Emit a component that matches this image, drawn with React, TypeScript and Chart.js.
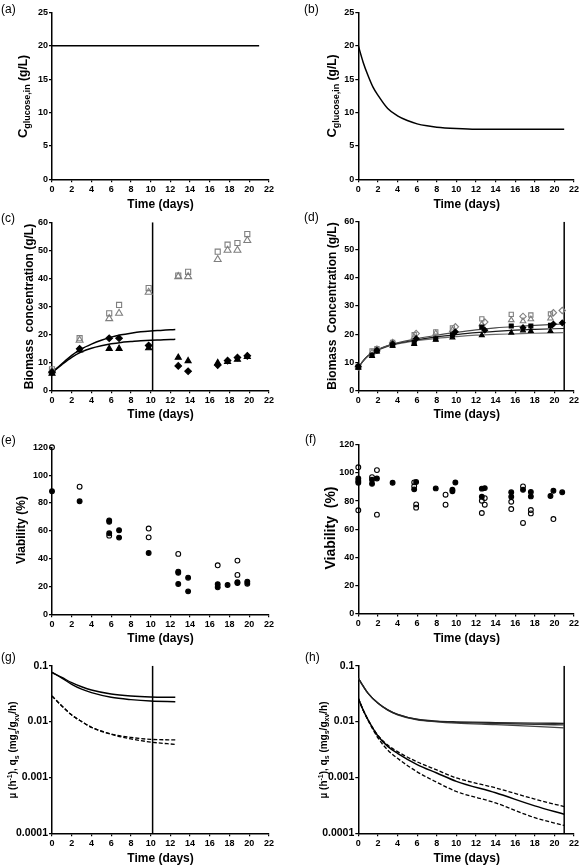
import React, { useEffect, useRef } from 'react';
import { Chart, registerables } from 'chart.js';

Chart.register(...registerables);

const FONT = '"Liberation Sans", Arial, Helvetica, sans-serif';

// ---------------- data ----------------
const xTickStep = 2;
const xMin = 0;
const xMax = 22;

// (a) constant glucose feed
const aT = [0, 21];
const aV = [20, 20];

// (b) decreasing glucose feed
const bT = [0, 0.5, 1, 1.5, 2, 3, 4, 5, 6, 7, 8, 10, 12, 21];
const bV = [20, 17.5, 15.5, 13.8, 12.6, 10.6, 9.5, 8.8, 8.3, 8.0, 7.8, 7.6, 7.5, 7.5];

// (c) biomass, constant feed
const cT = [0, 2.8, 5.8, 6.8, 9.8, 12.8, 13.8, 16.8, 17.8, 18.8, 19.8];
const cOpenSq = [7.5, 18.6, 27.5, 30.5, 36.5, 41, 42.3, 49.5, 52, 52.6, 55.8];
const cOpenTri = [6.9, 17.9, 25.6, 27.5, 35, 40.6, 40.6, 46.7, 50, 50, 53.5];
const cFillDia = [6.5, 14.8, 18.6, 18.6, 16, 8.7, 6.8, 9, 10.6, 11.7, 12.3];
const cFillTri = [6.0, 14.3, 14.9, 14.9, 15.1, 11.7, 10.5, 9.8, 10.2, 11, 12];
const cFitT = [0, 1, 2, 3, 4, 5, 6, 7, 8, 9, 10, 11, 12, 12.5];
const cFitHigh = [6.3, 9.5, 12.5, 14.8, 16.5, 17.9, 19, 19.8, 20.4, 20.9, 21.2, 21.4, 21.6, 21.7];
const cFitLow = [6.3, 9.2, 11.8, 13.7, 15, 15.9, 16.6, 17.1, 17.4, 17.7, 17.9, 18.0, 18.1, 18.2];
const cCut = 10.2;

// (d) biomass, decreasing feed
const dT1 = [0, 1.4, 1.9, 3.5, 5.7, 7.9, 9.6, 12.6, 15.6, 17.6, 19.6];
const dOpenSq = [8.5, 14, 14.8, 17, 19.8, 20.8, 22.2, 25.4, 27, 26.8, 27.2];
const dFillSq = [8.3, 12.5, 14, 16, 17, 18.3, 19.8, 22.5, 22.9, 22.9, 23.1];
const dT2 = [0, 1.4, 1.9, 3.5, 5.7, 7.9, 9.6, 12.6, 15.6, 16.8, 17.6, 19.6];
const dOpenTri = [8.3, 13.5, 14.5, 16.8, 19, 20.3, 21.5, 23.6, 25, 24.6, 25.3, 25.6];
const dFillTri = [8, 12.2, 13.8, 15.8, 16.5, 18, 18.8, 19.6, 20.5, 21.3, 21.1, 21.1];
const dT3 = [0, 1.9, 3.5, 5.9, 9.9, 12.9, 16.8, 19.9, 20.8];
const dOpenDia = [8.3, 14.6, 17, 20.2, 22.6, 24.3, 26.3, 27.6, 28.4];
const dFillDia = [8.6, 14.2, 16.5, 18.4, 20.8, 21.4, 22.3, 23.6, 24];
const dFitT = [0, 0.5, 1, 2, 3, 4, 6, 8, 10, 12, 14, 16, 18, 21];
const dFitHigh = [8, 10.5, 12.3, 14.5, 15.9, 16.9, 18.4, 19.6, 20.6, 21.5, 22.2, 22.7, 23.1, 23.6];
const dFitMid = [8, 10.5, 12.3, 14.4, 15.8, 16.7, 18.0, 19.0, 19.8, 20.5, 21.0, 21.4, 21.7, 22.0];
const dFitLow = [8, 10.5, 12.3, 14.3, 15.6, 16.5, 17.7, 18.5, 19.1, 19.6, 19.9, 20.1, 20.3, 20.5];
const dCut = 21;

// (e) viability, constant feed
const eOpenT = [0, 2.8, 5.8, 9.8, 9.8, 12.8, 16.8, 18.8, 18.8];
const eOpenV = [120, 91.7, 56.5, 61.6, 55.3, 43.4, 35.2, 38.6, 28.3];
const eFillT = [0, 2.8, 5.8, 5.8, 5.8, 6.8, 6.8, 9.8, 12.8, 12.8, 12.8, 13.8, 13.8, 16.8, 16.8, 17.8, 18.8, 18.8, 19.8, 19.8];
const eFillV = [88.4, 81.2, 67.5, 66.5, 58.2, 60.4, 55.1, 44.1, 30.7, 29.8, 21.8, 26.3, 16.5, 21.6, 19.4, 21.1, 22.5, 23, 23.5, 22];

// (f) viability, decreasing feed
const fFillT = [0, 0, 0, 1.4, 1.4, 1.9, 3.5, 5.7, 5.9, 7.9, 9.6, 9.6, 9.9, 12.6, 12.6, 12.9, 15.6, 15.6, 16.8, 17.6, 17.6, 19.6, 19.9, 20.8];
const fFillV = [96.1, 94.2, 93, 95.1, 92.3, 96, 93, 88.3, 93.5, 89, 88, 87, 93.2, 88.8, 83, 89.2, 86.2, 83, 88, 86.4, 83.3, 83.6, 87.3, 86.2];
const fOpenT = [0, 0, 1.4, 1.9, 1.9, 5.7, 5.7, 5.9, 5.9, 8.9, 8.9, 12.6, 12.6, 12.9, 12.9, 15.6, 15.6, 16.8, 16.8, 17.6, 17.6, 19.9];
const fOpenV = [104, 73.4, 97, 102, 70.3, 93.3, 90.6, 77.6, 75.3, 84.5, 77.4, 80.2, 71.5, 82.1, 77.4, 79.5, 74.3, 90.4, 64.4, 73.6, 71.2, 67.2];

// (g) specific rates, constant feed
const gT = [0, 1, 2, 3, 4, 6, 8, 10, 12.5];
const gMu1 = [0.076, 0.0618, 0.0497, 0.042, 0.0367, 0.0311, 0.0286, 0.0275, 0.0272];
const gMu2 = [0.076, 0.060, 0.0464, 0.038, 0.0329, 0.0272, 0.0247, 0.0233, 0.0227];
const gQs1 = [0.0287, 0.019, 0.0131, 0.0100, 0.0079, 0.0060, 0.0052, 0.0048, 0.0047];
const gQs2 = [0.0287, 0.019, 0.0131, 0.0100, 0.0079, 0.0059, 0.0049, 0.0043, 0.0039];
const gCut = 10.2;

// (h) specific rates, decreasing feed
const hT = [0, 0.5, 1, 2, 3, 4, 6, 8, 10, 14, 18, 21];
const hMu1 = [0.06, 0.043, 0.032, 0.0214, 0.0162, 0.0135, 0.011, 0.0102, 0.0099, 0.0096, 0.0094, 0.0093];
const hMu2 = [0.06, 0.043, 0.032, 0.0214, 0.0162, 0.0134, 0.0109, 0.0101, 0.0097, 0.0093, 0.0089, 0.0087];
const hMu3 = [0.06, 0.043, 0.032, 0.0213, 0.016, 0.0132, 0.0107, 0.0099, 0.0094, 0.0088, 0.0082, 0.0077];
const hQsTop = [0.026, 0.016, 0.0107, 0.0057, 0.0038, 0.0029, 0.0019, 0.00136, 0.00098, 0.00065, 0.00041, 0.0003];
const hQsMid = [0.026, 0.016, 0.0107, 0.0055, 0.0036, 0.0027, 0.0017, 0.0012, 0.00085, 0.00053, 0.00031, 0.00022];
const hQsLow = [0.026, 0.016, 0.0105, 0.0051, 0.0031, 0.0022, 0.00126, 0.00082, 0.00056, 0.00035, 0.00019, 0.000138];
const hCut = 21;

const logTickValues = [0.0001, 0.001, 0.01, 0.1];
const logTickLabels = ['0.0001', '0.001', '0.01', '0.1'];

// ---------------- helpers ----------------
const W_Y = 40;
const H_X = 16;

type Seg = { t: string; size: number; dy?: number; w?: string };
type TextItem = { x: number; y: number; rot?: boolean; align?: 'left' | 'center'; base: number; segs: Seg[] };
type Box = { x: number; y: number; w: number; h: number };
type Area = { l: number; t: number; r: number; b: number };

const pts = (xs: number[], ys: number[]) => xs.map((x, i) => ({ x, y: ys[i] }));

function markers(xs: number[], ys: number[], style: string, filled: boolean, color: string, r: number) {
  return {
    data: pts(xs, ys),
    showLine: false,
    pointStyle: style,
    pointRadius: r,
    pointBackgroundColor: filled ? color : 'rgba(0,0,0,0)',
    pointBorderColor: color,
    pointBorderWidth: 1.1,
    clip: false,
  };
}

function line(xs: number[], ys: number[], color: string, width: number, dash: number[] = []) {
  return {
    data: pts(xs, ys),
    showLine: true,
    borderColor: color,
    borderWidth: width,
    borderDash: dash,
    pointRadius: 0,
    cubicInterpolationMode: 'monotone',
    fill: false,
  };
}

function drawRich(ctx: CanvasRenderingContext2D, it: TextItem, ox: number, oy: number) {
  ctx.save();
  ctx.translate(it.x - ox, it.y - oy);
  if (it.rot) ctx.rotate(-Math.PI / 2);
  ctx.fillStyle = '#000';
  ctx.textBaseline = 'alphabetic';
  ctx.textAlign = 'left';
  let total = 0;
  const ws = it.segs.map((s) => {
    ctx.font = `${s.w || 'bold'} ${s.size}px ${FONT}`;
    const w = ctx.measureText(s.t).width;
    total += w;
    return w;
  });
  let cx = it.align === 'left' ? 0 : -total / 2;
  const baseY = it.base * 0.36;
  it.segs.forEach((s, i) => {
    ctx.font = `${s.w || 'bold'} ${s.size}px ${FONT}`;
    ctx.fillText(s.t, cx, baseY + (s.dy || 0));
    cx += ws[i];
  });
  ctx.restore();
}

const tickFont = { family: FONT, size: 9, weight: 'bold' as const };
const logTickFont = { family: FONT, size: 10.5, weight: 'bold' as const };

function xAxis() {
  return {
    type: 'linear',
    min: xMin,
    max: xMax,
    ticks: { stepSize: xTickStep, autoSkip: false, maxRotation: 0, font: tickFont, color: '#000', padding: 2 },
    grid: { display: true, drawOnChartArea: false, drawTicks: true, tickLength: 3, color: '#000', lineWidth: 1.2 },
    border: { display: true, color: '#000', width: 1.5 },
    afterFit: (s: any) => {
      s.height = H_X;
    },
  };
}

function yLinear(max: number, step: number) {
  return {
    type: 'linear',
    min: 0,
    max,
    ticks: { stepSize: step, autoSkip: false, font: tickFont, color: '#000', padding: 1 },
    grid: { display: true, drawOnChartArea: false, drawTicks: true, tickLength: 3, color: '#000', lineWidth: 1.2 },
    border: { display: true, color: '#000', width: 1.5 },
    afterFit: (s: any) => {
      s.width = W_Y;
    },
  };
}

function yLog() {
  return {
    type: 'logarithmic',
    min: logTickValues[0],
    max: logTickValues[logTickValues.length - 1],
    afterBuildTicks: (s: any) => {
      s.ticks = logTickValues.map((v) => ({ value: v, major: true }));
    },
    ticks: {
      autoSkip: false,
      font: logTickFont,
      color: '#000',
      padding: 1,
      callback: (v: number) => {
        const i = logTickValues.findIndex((t) => Math.abs(t - v) / t < 1e-6);
        return i >= 0 ? logTickLabels[i] : '';
      },
    },
    grid: { display: true, drawOnChartArea: false, drawTicks: true, tickLength: 3, color: '#000', lineWidth: 1.2 },
    border: { display: true, color: '#000', width: 1.5 },
    afterFit: (s: any) => {
      s.width = W_Y;
    },
  };
}

type Spec = { box: Box; area: Area; y: any; datasets: any[]; texts: TextItem[] };

const title = (x: number, y: number, text: string, size = 12): TextItem => ({ x, y, base: size, segs: [{ t: text, size }] });
const yTitle = (x: number, y: number, segs: Seg[], base = 12): TextItem => ({ x, y, rot: true, base, segs });
const panelLabel = (x: number, y: number, t: string): TextItem => ({ x, y, align: 'left', base: 12, segs: [{ t, size: 12, w: 'normal' }] });

const glucoseSegs: Seg[] = [
  { t: 'C', size: 13 },
  { t: 'glucose,in', size: 9, dy: 3 },
  { t: ' (g/L)', size: 12 },
];
const rateSegs: Seg[] = [
  { t: 'µ (h', size: 10 },
  { t: '-1', size: 7, dy: -4 },
  { t: '), q', size: 10 },
  { t: 's', size: 7, dy: 2.5 },
  { t: ' (mg', size: 10 },
  { t: 's', size: 7, dy: 2.5 },
  { t: '/g', size: 10 },
  { t: 'xv', size: 7, dy: 2.5 },
  { t: '/h)', size: 10 },
];

const L = { l: 52, r: 269 };
const R = { l: 358.3, r: 575 };
const cx = (a: { l: number; r: number }) => (a.l + a.r) / 2;

const GRAY = '#7f7f7f';

const specs: Spec[] = [
  {
    box: { x: 0, y: 0, w: 290, h: 212 },
    area: { l: L.l, t: 12.3, r: L.r, b: 179.3 },
    y: yLinear(25, 5),
    datasets: [line(aT, aV, '#000', 1.4)],
    texts: [panelLabel(1, 8.5, '(a)'), yTitle(22.5, 96.5, glucoseSegs, 13), title(cx(L), 203.5, 'Time (days)')],
  },
  {
    box: { x: 290, y: 0, w: 291, h: 212 },
    area: { l: R.l, t: 12.3, r: R.r, b: 179.3 },
    y: yLinear(25, 5),
    datasets: [line(bT, bV, '#000', 1.5)],
    texts: [panelLabel(304, 8.5, '(b)'), yTitle(331, 96, glucoseSegs, 13), title(cx(R), 203.5, 'Time (days)')],
  },
  {
    box: { x: 0, y: 212, w: 290, h: 214 },
    area: { l: L.l, t: 222.3, r: L.r, b: 390.3 },
    y: yLinear(60, 10),
    datasets: [
      markers(cT, cFillDia, 'rectRot', true, '#000', 3.3),
      markers(cT, cFillTri, 'triangle', true, '#000', 3.5),
      markers(cT, cOpenSq, 'rect', false, GRAY, 3.6),
      markers(cT, cOpenTri, 'triangle', false, GRAY, 4),
      line(cFitT, cFitHigh, '#000', 1.5),
      line(cFitT, cFitLow, '#000', 1.5),
      line([cCut, cCut], [0, 60], '#000', 1.5),
    ],
    texts: [panelLabel(1, 218, '(c)'), yTitle(28.3, 306.5, [{ t: 'Biomass  concentration (g/L)', size: 12 }]), title(cx(L), 414, 'Time (days)')],
  },
  {
    box: { x: 290, y: 212, w: 291, h: 214 },
    area: { l: R.l, t: 221.7, r: R.r, b: 390.3 },
    y: yLinear(60, 10),
    datasets: [
      markers(dT1, dFillSq, 'rect', true, '#000', 2.8),
      markers(dT2, dFillTri, 'triangle', true, '#000', 2.8),
      markers(dT3, dFillDia, 'rectRot', true, '#000', 2.8),
      markers(dT1, dOpenSq, 'rect', false, GRAY, 3),
      markers(dT2, dOpenTri, 'triangle', false, GRAY, 3.2),
      markers(dT3, dOpenDia, 'rectRot', false, GRAY, 3.2),
      line(dFitT, dFitHigh, '#4a4a4a', 1.2),
      line(dFitT, dFitMid, '#1a1a1a', 1.2),
      line(dFitT, dFitLow, '#6a6a6a', 1.2),
      line([dCut, dCut], [0, 60], '#000', 1.5),
    ],
    texts: [panelLabel(304, 217, '(d)'), yTitle(331.7, 306, [{ t: 'Biomass  Concentration (g/L)', size: 12 }]), title(cx(R), 414, 'Time (days)')],
  },
  {
    box: { x: 0, y: 426, w: 290, h: 219 },
    area: { l: L.l, t: 447.3, r: L.r, b: 614.3 },
    y: yLinear(120, 20),
    datasets: [
      markers(eFillT, eFillV, 'circle', true, '#000', 2.4),
      markers(eOpenT, eOpenV, 'circle', false, '#000', 2.4),
    ],
    texts: [panelLabel(1, 440, '(e)'), yTitle(20.7, 530, [{ t: 'Viability (%)', size: 12 }]), title(cx(L), 637.5, 'Time (days)')],
  },
  {
    box: { x: 290, y: 426, w: 291, h: 219 },
    area: { l: R.l, t: 444.8, r: R.r, b: 613.5 },
    y: yLinear(120, 20),
    datasets: [
      markers(fFillT, fFillV, 'circle', true, '#000', 2.4),
      markers(fOpenT, fOpenV, 'circle', false, '#000', 2.4),
    ],
    texts: [panelLabel(305, 439, '(f)'), yTitle(330, 528, [{ t: 'Viability  (%)', size: 14 }], 14), title(cx(R), 637.5, 'Time (days)')],
  },
  {
    box: { x: 0, y: 645, w: 290, h: 222 },
    area: { l: L.l, t: 665.7, r: L.r, b: 833.3 },
    y: yLog(),
    datasets: [
      line(gT, gMu1, '#000', 1.4),
      line(gT, gMu2, '#000', 1.4),
      line(gT, gQs1, '#000', 1.3, [4, 2]),
      line(gT, gQs2, '#000', 1.3, [4, 2]),
      line([gCut, gCut], [logTickValues[0], logTickValues[3]], '#000', 1.5),
    ],
    texts: [panelLabel(1, 657, '(g)'), yTitle(12.7, 750, rateSegs, 10), title(cx(L), 857.5, 'Time (days)')],
  },
  {
    box: { x: 290, y: 645, w: 291, h: 222 },
    area: { l: R.l, t: 665.7, r: R.r, b: 833.3 },
    y: yLog(),
    datasets: [
      line(hT, hMu1, '#222', 1.3),
      line(hT, hMu2, '#333', 1.3),
      line(hT, hMu3, '#444', 1.3),
      line(hT, hQsTop, '#000', 1.3, [4, 2]),
      line(hT, hQsMid, '#000', 1.5),
      line(hT, hQsLow, '#000', 1.3, [4, 2]),
      line([hCut, hCut], [logTickValues[0], logTickValues[3]], '#000', 1.5),
    ],
    texts: [panelLabel(305, 657, '(h)'), yTitle(323.3, 750, rateSegs, 10), title(cx(R), 857.5, 'Time (days)')],
  },
];

function buildConfig(spec: Spec): any {
  const { box, area } = spec;
  const padding = {
    left: area.l - box.x - W_Y,
    top: area.t - box.y,
    right: box.x + box.w - area.r,
    bottom: box.y + box.h - area.b - H_X,
  };
  const textPlugin = {
    id: 'panelText',
    afterDraw(chart: any) {
      const ctx = chart.ctx as CanvasRenderingContext2D;
      spec.texts.forEach((it) => drawRich(ctx, it, box.x, box.y));
    },
  };
  return {
    type: 'scatter',
    data: { datasets: spec.datasets },
    options: {
      animation: false,
      responsive: false,
      devicePixelRatio: 1,
      events: [],
      layout: { padding },
      scales: { x: xAxis(), y: spec.y },
      plugins: { legend: { display: false }, tooltip: { enabled: false } },
    },
    plugins: [textPlugin],
  };
}

function Panel({ spec }: { spec: Spec }) {
  const ref = useRef<HTMLCanvasElement>(null);
  useEffect(() => {
    const chart = new Chart(ref.current as HTMLCanvasElement, buildConfig(spec));
    return () => chart.destroy();
  }, [spec]);
  const { box } = spec;
  return (
    <canvas
      ref={ref}
      width={box.w}
      height={box.h}
      style={{ position: 'absolute', left: box.x, top: box.y, width: box.w, height: box.h }}
    />
  );
}

export default function App() {
  return (
    <div style={{ position: 'absolute', left: 0, top: 0, width: 581, height: 867, background: '#fff', overflow: 'hidden' }}>
      {specs.map((s, i) => (
        <Panel key={i} spec={s} />
      ))}
    </div>
  );
}
